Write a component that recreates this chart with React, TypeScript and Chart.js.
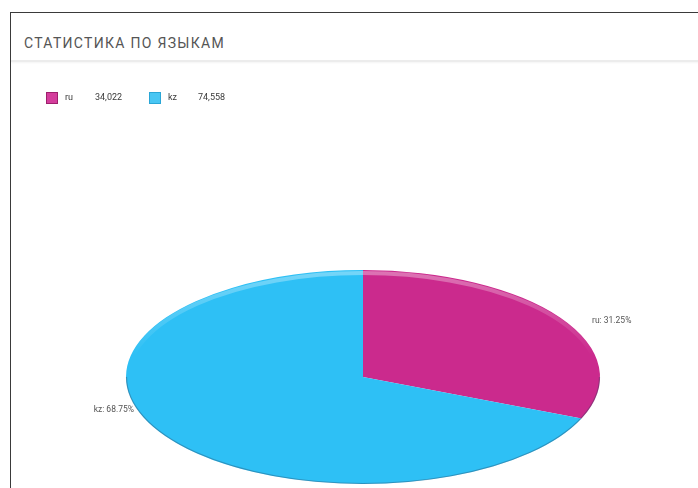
import { useEffect, useRef } from "react";
import { Chart, registerables } from "chart.js";

Chart.register(...registerables);

const languages = ["ru", "kz"];
const counts = [34022, 74558];
const countLabels = ["34,022", "74,558"];
const percentLabels = ["31.25%", "68.75%"];

const sliceColors = ["#cb2a8d", "#2ec0f5"];
const legendColors = ["#d43d9c", "#49c6f3"];
const legendBorders = ["#9e1f6c", "#2aa6d6"];

const SX = 237 / 107;

const ellipsePlugin = {
  id: "ellipse",
  beforeDatasetsDraw(chart: any) {
    const arc = chart.getDatasetMeta(0).data[0];
    if (!arc) return;
    const ctx = chart.ctx;
    ctx.save();
    ctx.translate(arc.x, arc.y);
    ctx.scale(SX, 1);
    ctx.translate(-arc.x, -arc.y);
  },
  afterDatasetsDraw(chart: any) {
    const ctx = chart.ctx;
    ctx.restore();
    const arc = chart.getDatasetMeta(0).data[0];
    if (!arc) return;
    const r = arc.outerRadius;
    // light top rim
    ctx.save();
    ctx.beginPath();
    ctx.ellipse(arc.x, arc.y, r * SX, r, 0, 0, Math.PI * 2);
    ctx.clip();
    const g = ctx.createLinearGradient(0, arc.y - r, 0, arc.y - r * 0.2);
    g.addColorStop(0, "rgba(255,255,255,0.35)");
    g.addColorStop(1, "rgba(255,255,255,0)");
    ctx.beginPath();
    ctx.ellipse(arc.x, arc.y + 1.5, r * SX - 1.5, r - 1.5, 0, Math.PI, Math.PI * 2);
    ctx.strokeStyle = g;
    ctx.lineWidth = 4;
    ctx.stroke();
    ctx.restore();
    // darker bottom edge
    ctx.save();
    ctx.beginPath();
    ctx.ellipse(arc.x, arc.y, r * SX - 0.5, r - 0.5, 0, 0, Math.PI);
    ctx.strokeStyle = "rgba(40,60,90,0.35)";
    ctx.lineWidth = 1.2;
    ctx.stroke();
    ctx.restore();
  },
  afterDraw(chart: any) {
    const ctx = chart.ctx;
    const meta = chart.getDatasetMeta(0);
    ctx.save();
    // legend
    ctx.font = "9px Roboto, 'DejaVu Sans', sans-serif";
    ctx.textBaseline = "middle";
    let x = 46;
    const y = 98;
    languages.forEach((lang, i) => {
      ctx.fillStyle = legendColors[i];
      ctx.fillRect(x, y - 6, 12, 12);
      ctx.strokeStyle = legendBorders[i];
      ctx.lineWidth = 1;
      ctx.strokeRect(x + 0.5, y - 5.5, 11, 11);
      ctx.fillStyle = "#3a3a3a";
      ctx.textAlign = "left";
      ctx.fillText(lang, x + 19, y);
      ctx.fillText(countLabels[i], x + 49, y);
      x += 103;
    });
    // data labels
    ctx.font = "8.5px Roboto, 'DejaVu Sans', sans-serif";
    ctx.fillStyle = "#555";
    meta.data.forEach((arc: any, i: number) => {
      const mid = (arc.startAngle + arc.endAngle) / 2;
      const c = Math.cos(mid);
      const s = Math.sin(mid);
      const r = arc.outerRadius;
      const lx = arc.x + (r * SX + 38) * c;
      const ly = arc.y + r * s * 0.75 - 12;
      ctx.textAlign = c >= 0 ? "left" : "right";
      ctx.fillText(`${languages[i]}: ${percentLabels[i]}`, lx, ly);
    });
    ctx.restore();
  },
};

export default function App() {
  const ref = useRef<HTMLCanvasElement | null>(null);
  useEffect(() => {
    if (!ref.current) return;
    const chart = new Chart(ref.current, {
      type: "pie",
      data: {
        labels: languages,
        datasets: [
          {
            data: counts,
            backgroundColor: sliceColors,
            borderWidth: 0,
          },
        ],
      },
      options: {
        animation: false,
        responsive: false,
        maintainAspectRatio: false,
        layout: { padding: { top: 270, bottom: 4, left: 126, right: 98 } },
        plugins: {
          legend: { display: false },
          tooltip: { enabled: false },
        },
      },
      plugins: [ellipsePlugin],
    });
    return () => chart.destroy();
  }, []);

  return (
    <div
      style={{
        position: "fixed",
        left: 0,
        top: 0,
        width: 698,
        height: 488,
        background: "#fff",
        overflow: "hidden",
      }}
    >
      <div
        style={{
          position: "absolute",
          left: 10,
          top: 12,
          width: 700,
          height: 490,
          borderLeft: "1.5px solid #3a3a3a",
          borderTop: "1.5px solid #3a3a3a",
          boxSizing: "border-box",
        }}
      />
      <div
        style={{
          position: "absolute",
          left: 24,
          top: 34,
          fontFamily: "Roboto, 'DejaVu Sans', sans-serif",
          fontSize: 14,
          lineHeight: "18px",
          color: "#555",
          letterSpacing: 1.3,
          whiteSpace: "nowrap",
        }}
      >
        СТАТИСТИКА ПО ЯЗЫКАМ
      </div>
      <div
        style={{
          position: "absolute",
          left: 11,
          top: 60,
          width: 690,
          height: 2,
          background: "#ececec",
          boxShadow: "0 1px 2px rgba(0,0,0,0.05)",
        }}
      />
      <canvas
        ref={ref}
        width={698}
        height={488}
        style={{ position: "absolute", left: 0, top: 0 }}
      />
    </div>
  );
}
